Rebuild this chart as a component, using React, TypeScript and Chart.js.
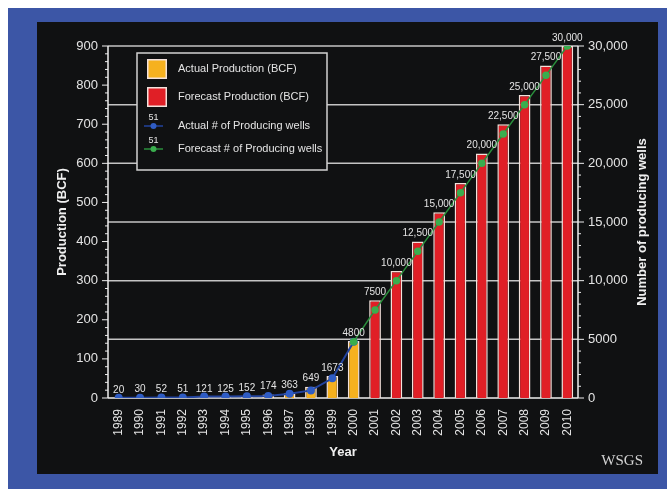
import React, { useEffect, useRef } from "react";
import { Chart, registerables } from "chart.js";

Chart.register(...registerables);

const years = ["1989","1990","1991","1992","1993","1994","1995","1996","1997","1998","1999","2000","2001","2002","2003","2004","2005","2006","2007","2008","2009","2010"];
const actualProduction = [0.5, 0.8, 1, 1.2, 2, 2.5, 4, 9, 12, 29, 56, 146, null, null, null, null, null, null, null, null, null, null];
const forecastProduction = [null, null, null, null, null, null, null, null, null, null, null, null, 250, 325, 400, 475, 550, 625, 700, 775, 850, 900];
const actualWells = [20, 30, 52, 51, 121, 125, 152, 174, 363, 649, 1673, 4800, null, null, null, null, null, null, null, null, null, null];
const forecastWells = [null, null, null, null, null, null, null, null, null, null, null, 4800, 7500, 10000, 12500, 15000, 17500, 20000, 22500, 25000, 27500, 30000];
const legendLabels = ["Actual Production (BCF)", "Forecast Production (BCF)", "Actual # of Producing wells", "Forecast # of Producing wells"];

const BG = "#101112";
const FRAME = "#3c56a6";
const TEXT = "#e4e4e4";
const GRID = "#c4c4c4";
const AXIS = "#eeeeee";
const ORANGE = "#f6b11f";
const RED = "#e01f26";
const BAR_BORDER = "#f3e2dc";
const BLUE = "#22439e";
const BLUE_PT = "#2f5cc4";
const GREEN = "#2a8f3c";
const GREEN_PT = "#3aae4e";
const SANS = "'Liberation Sans', Arial, Helvetica, sans-serif";

const fmt = (v: number) => (v >= 10000 ? String(v).replace(/\B(?=(\d{3})+(?!\d))/g, ",") : String(v));

const decor = {
  id: "decor",
  beforeDatasetsDraw(chart: any) {
    const { ctx, chartArea, scales } = chart;
    const { left, right, top, bottom } = chartArea;
    const y = scales.y;
    const y1 = scales.y1;
    ctx.save();
    ctx.strokeStyle = GRID;
    ctx.lineWidth = 1.5;
    for (let v = 5000; v <= 30000; v += 5000) {
      const py = y1.getPixelForValue(v);
      ctx.beginPath();
      ctx.moveTo(left, py);
      ctx.lineTo(right, py);
      ctx.stroke();
    }
    ctx.strokeStyle = AXIS;
    ctx.lineWidth = 1.5;
    ctx.beginPath();
    ctx.moveTo(left, top);
    ctx.lineTo(left, bottom);
    ctx.moveTo(right, top);
    ctx.lineTo(right, bottom);
    ctx.moveTo(left, bottom);
    ctx.lineTo(right, bottom);
    ctx.stroke();
    ctx.lineWidth = 1;
    for (let v = 0; v <= 900; v += 20) {
      const py = y.getPixelForValue(v);
      const len = v % 100 === 0 ? 6 : 3;
      ctx.beginPath();
      ctx.moveTo(left - len, py);
      ctx.lineTo(left, py);
      ctx.stroke();
    }
    for (let v = 0; v <= 30000; v += 1000) {
      const py = y1.getPixelForValue(v);
      const len = v % 5000 === 0 ? 6 : 3;
      ctx.beginPath();
      ctx.moveTo(right, py);
      ctx.lineTo(right + len, py);
      ctx.stroke();
    }
    ctx.restore();
  },
  afterDatasetsDraw(chart: any) {
    const { ctx } = chart;
    const m0 = chart.getDatasetMeta(0);
    const m1 = chart.getDatasetMeta(1);
    ctx.save();
    ctx.fillStyle = TEXT;
    ctx.font = `10px ${SANS}`;
    ctx.textAlign = "center";
    ctx.textBaseline = "middle";
    years.forEach((_, i) => {
      const el = actualProduction[i] != null ? m0.data[i] : m1.data[i];
      const w = actualWells[i] != null ? actualWells[i] : forecastWells[i];
      if (!el || w == null) return;
      ctx.fillText(fmt(w as number), el.x, el.y - 8);
    });
    ctx.restore();
  },
  afterDraw(chart: any) {
    const { ctx, chartArea } = chart;
    const { left, right, top, bottom } = chartArea;
    ctx.save();
    ctx.fillStyle = BG;
    ctx.fillRect(100, 31, 190, 117);
    ctx.strokeStyle = "#d2d2d2";
    ctx.lineWidth = 1.5;
    ctx.strokeRect(100, 31, 190, 117);
    ctx.fillStyle = ORANGE;
    ctx.fillRect(110, 37, 20, 20);
    ctx.strokeStyle = BAR_BORDER;
    ctx.strokeRect(110.75, 37.75, 18.5, 18.5);
    ctx.fillStyle = RED;
    ctx.fillRect(110, 65, 20, 20);
    ctx.strokeRect(110.75, 65.75, 18.5, 18.5);
    const mini = (yy: number, col: string, pt: string) => {
      ctx.strokeStyle = col;
      ctx.lineWidth = 1.5;
      ctx.beginPath();
      ctx.moveTo(107, yy);
      ctx.lineTo(126, yy);
      ctx.stroke();
      ctx.fillStyle = pt;
      ctx.beginPath();
      ctx.arc(116.5, yy, 3, 0, Math.PI * 2);
      ctx.fill();
      ctx.fillStyle = TEXT;
      ctx.font = `9px ${SANS}`;
      ctx.textAlign = "center";
      ctx.textBaseline = "middle";
      ctx.fillText("51", 116.5, yy - 8);
    };
    mini(104, BLUE, BLUE_PT);
    mini(127, GREEN, GREEN_PT);
    ctx.fillStyle = TEXT;
    ctx.font = `11px ${SANS}`;
    ctx.textAlign = "left";
    ctx.textBaseline = "middle";
    ctx.fillText(legendLabels[0], 141, 47);
    ctx.fillText(legendLabels[1], 141, 75);
    ctx.fillText(legendLabels[2], 141, 104);
    ctx.fillText(legendLabels[3], 141, 127);
    const cy = (top + bottom) / 2;
    ctx.font = `bold 13px ${SANS}`;
    ctx.textAlign = "center";
    ctx.fillStyle = "#f0f0f0";
    ctx.save();
    ctx.translate(25, cy);
    ctx.rotate(-Math.PI / 2);
    ctx.fillText("Production (BCF)", 0, 0);
    ctx.restore();
    ctx.save();
    ctx.translate(605, cy);
    ctx.rotate(-Math.PI / 2);
    ctx.fillText("Number of producing wells", 0, 0);
    ctx.restore();
    ctx.fillText("Year", (left + right) / 2, 430);
    ctx.font = `15px 'Liberation Serif', 'DejaVu Serif', serif`;
    ctx.fillStyle = "#d4d4d4";
    ctx.textAlign = "right";
    ctx.fillText("WSGS", 606, 439);
    ctx.restore();
  },
};

export default function App() {
  const ref = useRef<HTMLCanvasElement>(null);
  useEffect(() => {
    if (!ref.current) return;
    const tickFont = { family: SANS, size: 13 };
    const chart = new Chart(ref.current, {
      type: "bar",
      data: {
        labels: years,
        datasets: [
          {
            type: "bar",
            label: legendLabels[0],
            data: actualProduction,
            yAxisID: "y",
            backgroundColor: ORANGE,
            borderColor: BAR_BORDER,
            borderWidth: 1.5,
            barPercentage: 0.55,
            categoryPercentage: 1,
            grouped: false,
            order: 3,
          },
          {
            type: "bar",
            label: legendLabels[1],
            data: forecastProduction,
            yAxisID: "y",
            backgroundColor: RED,
            borderColor: BAR_BORDER,
            borderWidth: 1.5,
            barPercentage: 0.55,
            categoryPercentage: 1,
            grouped: false,
            order: 2,
          },
          {
            type: "line",
            label: legendLabels[2],
            data: actualWells,
            yAxisID: "y1",
            borderColor: BLUE,
            backgroundColor: BLUE_PT,
            pointBackgroundColor: BLUE_PT,
            pointBorderColor: BLUE_PT,
            pointRadius: 3,
            borderWidth: 2,
            order: 1,
          },
          {
            type: "line",
            label: legendLabels[3],
            data: forecastWells,
            yAxisID: "y1",
            borderColor: GREEN,
            backgroundColor: GREEN_PT,
            pointBackgroundColor: GREEN_PT,
            pointBorderColor: GREEN_PT,
            pointRadius: 3,
            borderWidth: 1.5,
            order: 0,
          },
        ] as any,
      },
      options: {
        responsive: false,
        maintainAspectRatio: false,
        animation: false,
        layout: { padding: { top: 24, left: 0, right: 0, bottom: 0 } },
        plugins: { legend: { display: false }, tooltip: { enabled: false } },
        scales: {
          x: {
            offset: true,
            grid: { display: false, drawTicks: false },
            border: { display: false },
            ticks: { color: TEXT, font: { family: SANS, size: 12 }, minRotation: 90, maxRotation: 90, autoSkip: false, padding: 11 },
            afterFit: (s: any) => { s.height = 76; },
          },
          y: {
            position: "left",
            min: 0,
            max: 900,
            grid: { display: false, drawTicks: false },
            border: { display: false },
            ticks: { stepSize: 100, color: TEXT, font: tickFont, padding: 10 },
            afterFit: (s: any) => { s.width = 71; },
          },
          y1: {
            position: "right",
            min: 0,
            max: 30000,
            grid: { display: false, drawTicks: false },
            border: { display: false },
            ticks: { stepSize: 5000, color: TEXT, font: tickFont, padding: 10, callback: (v: any) => fmt(Number(v)) },
            afterFit: (s: any) => { s.width = 80; },
          },
        },
      } as any,
      plugins: [decor],
    });
    return () => chart.destroy();
  }, []);
  return (
    <div style={{ position: "fixed", left: 8, top: 8, width: 659, height: 481, background: FRAME }}>
      <div style={{ position: "absolute", left: 29, top: 14, width: 621, height: 452, background: BG }}>
        <canvas ref={ref} width={621} height={452} style={{ display: "block", width: 621, height: 452 }} />
      </div>
    </div>
  );
}
